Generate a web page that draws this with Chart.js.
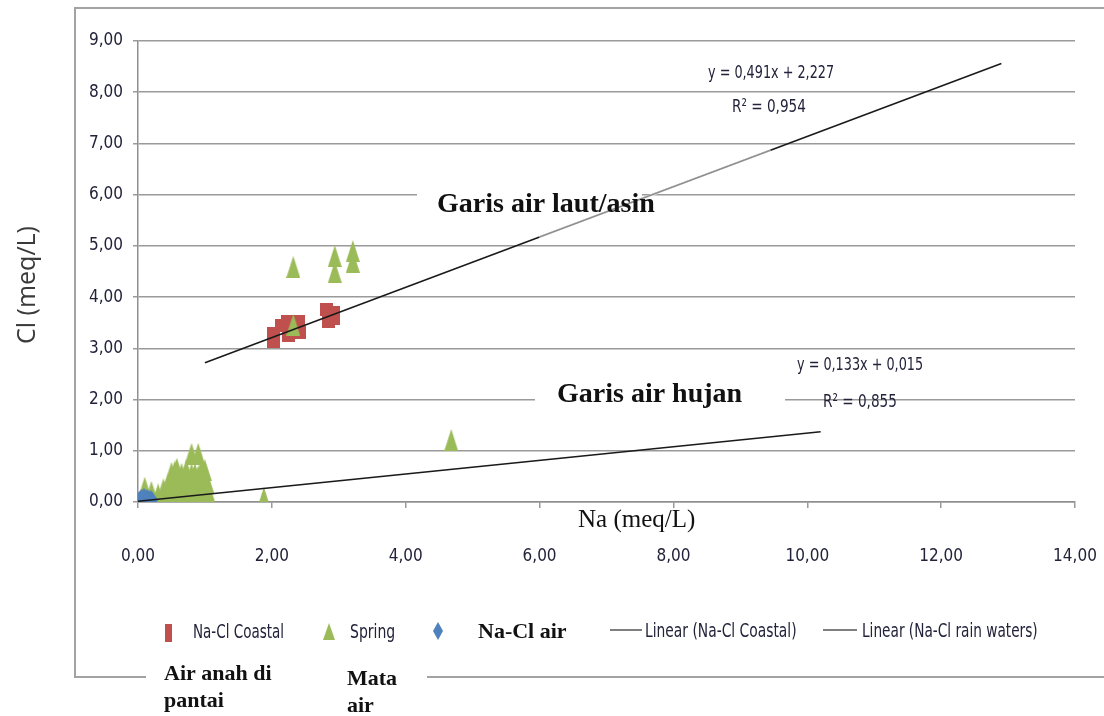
<!DOCTYPE html>
<html>
<head>
<meta charset="utf-8">
<script src="https://cdn.jsdelivr.net/npm/chart.js@4/dist/chart.umd.min.js"></script>
<style>
  html, body { margin: 0; padding: 0; background: #ffffff; }
  canvas { display: block; }
</style>
</head>
<body>
<canvas id="chart" width="1104" height="716"></canvas>
<script>
// Na vs Cl (meq/L) for the sampled waters
const coastalNa = [2.03, 2.03, 2.14, 2.24, 2.40, 2.25, 2.42, 2.33, 2.82, 2.92, 2.84, 2.92];
const coastalCl = [3.13, 3.28, 3.44, 3.53, 3.53, 3.25, 3.30, 3.40, 3.76, 3.70, 3.53, 3.58];

const springNa = [2.32, 2.32, 2.94, 2.94, 3.21, 3.21, 4.68, 1.88,
  0.10, 0.10, 0.20, 0.25, 0.30, 0.38, 0.38, 0.45, 0.45, 0.50, 0.50, 0.55, 0.55,
  0.60, 0.60, 0.65, 0.65, 0.70, 0.70, 0.75, 0.75, 0.80, 0.80, 0.80, 0.85, 0.85,
  0.90, 0.90, 0.95, 0.95, 1.00, 1.00, 1.03,
  0.15, 0.20, 0.35, 0.45, 0.55, 0.65, 0.50, 0.60, 0.70, 0.85, 0.90, 0.95,
  1.00, 0.75, 0.80, 0.58, 0.65, 0.72, 0.85, 0.95, 1.05];
const springCl = [4.59, 3.46, 4.80, 4.49, 4.90, 4.69, 1.21, 0.08,
  0.05, 0.28, 0.10, 0.00, 0.15, 0.25, 0.05, 0.35, 0.10, 0.57, 0.20, 0.60, 0.30,
  0.45, 0.05, 0.35, 0.15, 0.50, 0.25, 0.40, 0.00, 0.94, 0.55, 0.15, 0.35, 0.05,
  0.94, 0.50, 0.45, 0.20, 0.62, 0.00, 0.40,
  0.00, 0.20, 0.00, 0.00, 0.05, 0.00, 0.40, 0.25, 0.10, 0.20, 0.00, 0.00,
  0.30, 0.20, 0.35, 0.65, 0.55, 0.62, 0.55, 0.65, 0.20];

const airNa = [0.02, 0.05, 0.07, 0.10, 0.12, 0.14, 0.16, 0.19, 0.21, 0.04, 0.18, 0.09];
const airCl = [0.05, 0.09, 0.01, 0.07, 0.00, 0.09, 0.04, 0.07, 0.03, 0.00, 0.00, 0.11];

// Linear fits: [slope, intercept] and the Na span each line covers
const coastalFit = [0.491, 2.227];
const coastalFitSpan = [1.0, 12.9];
const rainFit = [0.133, 0.015];
const rainFitSpan = [0.0, 10.2];
// stretch of the coastal fit that is printed in a paler grey
const coastalPaleSpan = [6.0, 9.45];

const xTickLabels = ['0,00', '2,00', '4,00', '6,00', '8,00', '10,00', '12,00', '14,00'];
const yTickLabels = ['0,00', '1,00', '2,00', '3,00', '4,00', '5,00', '6,00', '7,00', '8,00', '9,00'];

const RED = '#c0504d', GREEN = '#9bbb59', BLUE = '#4f81bd';
const NARROW = "'Liberation Sans Narrow', 'DejaVu Sans Condensed', sans-serif";
const SERIF = "'Liberation Serif', 'DejaVu Serif', serif";
const TEXT = '#22223a';

function marker(w, h, color, shape) {
  const c = document.createElement('canvas');
  c.width = w; c.height = h;
  const g = c.getContext('2d');
  g.fillStyle = color;
  g.beginPath();
  if (shape === 'tri') {
    g.moveTo(w / 2, 0); g.lineTo(w, h); g.lineTo(0, h);
  } else if (shape === 'diamond') {
    g.moveTo(w / 2, 0); g.lineTo(w, h / 2); g.lineTo(w / 2, h); g.lineTo(0, h / 2);
  } else {
    g.rect(0, 0, w, h);
  }
  g.closePath();
  g.fill();
  return c;
}

const squareMark = marker(13, 13, RED, 'rect');
const triMark = marker(14, 22, GREEN, 'tri');
const diamondMark = marker(12, 17, BLUE, 'diamond');

const pts = (xs, ys) => xs.map((x, i) => ({ x, y: ys[i] }));
const fitLine = (fit, span) => span.map(x => ({ x, y: fit[0] * x + fit[1] }));

const fmt = (v, labels, step) => labels[Math.round(v / step)] ?? '';

// condensed text: drawn with a horizontal squeeze
function squeezed(ctx, text, x, y, font, sx) {
  ctx.save();
  ctx.translate(x, y);
  ctx.scale(sx, 1);
  ctx.font = font;
  ctx.fillText(text, 0, 0);
  ctx.restore();
}

const decorations = {
  id: 'decorations',
  beforeDraw(chart) {
    const ctx = chart.ctx;
    ctx.save();
    ctx.strokeStyle = '#a3a3a3';
    ctx.lineWidth = 2;
    ctx.strokeRect(75, 8, 1100, 669);
    ctx.restore();
  },
  beforeDatasetsDraw(chart) {
    const ctx = chart.ctx;
    ctx.save();
    ctx.fillStyle = '#ffffff';
    ctx.fillRect(417, 184, 225, 42);
    ctx.fillRect(535, 383, 250, 26);
    ctx.restore();
  },
  afterDatasetsDraw(chart) {
    const ctx = chart.ctx;
    const xs = chart.scales.x, ys = chart.scales.y;
    ctx.save();

    // paler stretch of the coastal fit line
    ctx.strokeStyle = '#ffffff';
    ctx.lineWidth = 2.4;
    const p0 = coastalPaleSpan.map(x => [xs.getPixelForValue(x), ys.getPixelForValue(coastalFit[0] * x + coastalFit[1])]);
    ctx.beginPath(); ctx.moveTo(p0[0][0], p0[0][1]); ctx.lineTo(p0[1][0], p0[1][1]); ctx.stroke();
    ctx.strokeStyle = '#8c8c8c';
    ctx.lineWidth = 1.4;
    ctx.beginPath(); ctx.moveTo(p0[0][0], p0[0][1]); ctx.lineTo(p0[1][0], p0[1][1]); ctx.stroke();

    ctx.textBaseline = 'middle';
    ctx.fillStyle = '#111111';
    ctx.font = 'bold 28px ' + SERIF;
    ctx.fillText('Garis air laut/asin', 437, 205);
    ctx.fillText('Garis air hujan', 557, 395);
    ctx.font = '25px ' + SERIF;
    ctx.fillText('Na (meq/L)', 578, 520);

    ctx.fillStyle = TEXT;
    squeezed(ctx, 'y = 0,491x + 2,227', 708, 73, '18px ' + NARROW, 0.79);
    squeezed(ctx, 'R\u00B2 = 0,954', 732, 107, '18px ' + NARROW, 0.84);
    squeezed(ctx, 'y = 0,133x + 0,015', 797, 365, '18px ' + NARROW, 0.79);
    squeezed(ctx, 'R\u00B2 = 0,855', 823, 402, '18px ' + NARROW, 0.84);

    // y axis title
    ctx.save();
    ctx.translate(28, 285);
    ctx.rotate(-Math.PI / 2);
    ctx.textAlign = 'center';
    ctx.fillStyle = '#3a3a3a';
    ctx.font = "25px 'Open Sans', 'DejaVu Sans', sans-serif";
    ctx.fillText('Cl (meq/L)', 0, 0);
    ctx.restore();
    ctx.restore();
  },
  afterDraw(chart) {
    const ctx = chart.ctx;
    ctx.save();
    ctx.textBaseline = 'middle';

    // legend
    ctx.fillStyle = RED;
    ctx.fillRect(165, 624, 7, 18);
    ctx.drawImage(marker(12, 17, GREEN, 'tri'), 323, 623);
    ctx.drawImage(marker(10, 18, BLUE, 'diamond'), 433, 622);
    ctx.strokeStyle = '#7f7f7f';
    ctx.lineWidth = 2;
    ctx.beginPath();
    ctx.moveTo(610, 630); ctx.lineTo(642, 630);
    ctx.moveTo(823, 630); ctx.lineTo(857, 630);
    ctx.stroke();

    ctx.fillStyle = TEXT;
    squeezed(ctx, 'Na-Cl Coastal', 193, 633, '19px ' + NARROW, 0.79);
    squeezed(ctx, 'Spring', 350, 633, '19px ' + NARROW, 0.82);
    squeezed(ctx, 'Linear (Na-Cl Coastal)', 645, 632, '19px ' + NARROW, 0.81);
    squeezed(ctx, 'Linear (Na-Cl rain waters)', 862, 632, '19px ' + NARROW, 0.8);
    ctx.fillStyle = '#111111';
    ctx.font = 'bold 22px ' + SERIF;
    ctx.fillText('Na-Cl air', 478, 632);

    // captions under the legend
    ctx.fillStyle = '#ffffff';
    ctx.fillRect(146, 672, 281, 10);
    ctx.fillStyle = '#111111';
    ctx.font = 'bold 22px ' + SERIF;
    ctx.fillText('Air anah di', 164, 674);
    ctx.fillText('pantai', 164, 701);
    ctx.fillText('Mata', 347, 679);
    ctx.fillText('air', 347, 706);
    ctx.restore();
  }
};

new Chart(document.getElementById('chart'), {
  type: 'scatter',
  data: {
    datasets: [
      {
        label: 'Linear (Na-Cl Coastal)',
        data: fitLine(coastalFit, coastalFitSpan),
        showLine: true, borderColor: '#1a1a1a', borderWidth: 1.6,
        pointRadius: 0, order: 0
      },
      {
        label: 'Linear (Na-Cl rain waters)',
        data: fitLine(rainFit, rainFitSpan),
        showLine: true, borderColor: '#1a1a1a', borderWidth: 1.6,
        pointRadius: 0, order: 0
      },
      {
        label: 'Na-Cl air',
        data: pts(airNa, airCl),
        pointStyle: diamondMark, pointRadius: 6, order: 1
      },
      {
        label: 'Spring',
        data: pts(springNa, springCl),
        pointStyle: triMark, pointRadius: 7, order: 2
      },
      {
        label: 'Na-Cl Coastal',
        data: pts(coastalNa, coastalCl),
        pointStyle: squareMark, pointRadius: 7, order: 3
      }
    ]
  },
  options: {
    responsive: false,
    animation: false,
    events: [],
    layout: { padding: { left: 0, right: 29, top: 41, bottom: 0 } },
    plugins: { legend: { display: false }, tooltip: { enabled: false } },
    scales: {
      x: {
        type: 'linear', min: 0, max: 14,
        afterFit(scale) { scale.height = 214; scale.paddingLeft = 0; scale.paddingRight = 0; },
        ticks: {
          stepSize: 2, padding: 38, color: TEXT, maxRotation: 0,
          font: { family: NARROW, size: 17 },
          callback: v => fmt(v, xTickLabels, 2)
        },
        grid: { drawOnChartArea: false, drawTicks: true, tickLength: 6, color: '#9a9a9a', lineWidth: 1.5 },
        border: { display: true, color: '#8f8f8f', width: 1.5 }
      },
      y: {
        type: 'linear', min: 0, max: 9,
        afterFit(scale) { scale.width = 138; scale.paddingTop = 0; scale.paddingBottom = 0; },
        ticks: {
          stepSize: 1, padding: 10, color: TEXT,
          font: { family: NARROW, size: 17 },
          callback: v => fmt(v, yTickLabels, 1)
        },
        grid: { drawOnChartArea: true, drawTicks: true, tickLength: 5, color: '#9a9a9a', lineWidth: 1.5 },
        border: { display: true, color: '#8f8f8f', width: 1.5 }
      }
    }
  },
  plugins: [decorations]
});
</script>
</body>
</html>
